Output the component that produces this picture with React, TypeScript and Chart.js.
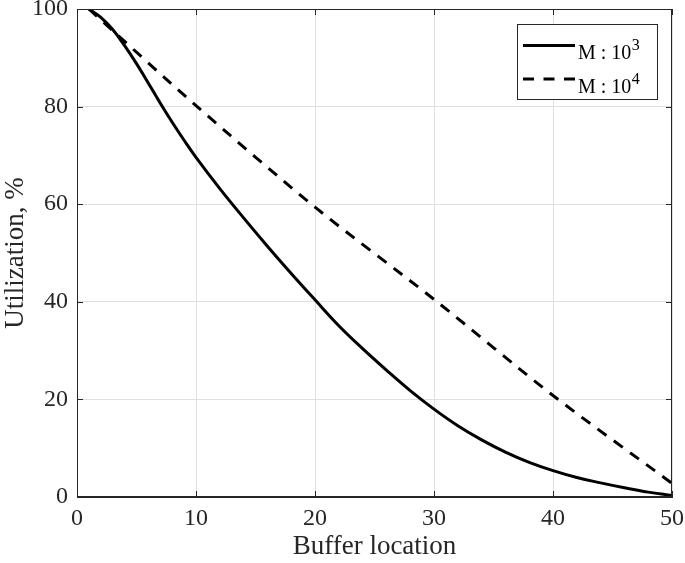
import React, { useEffect, useRef } from "react";
import { Chart, registerables } from "chart.js";

Chart.register(...registerables);

// ---- data ----
const solidX = [1, 2, 3, 4, 5, 6, 7, 8, 9, 10, 12, 14, 16, 18, 20, 22, 24, 26, 28, 30, 32, 34, 36, 38, 40, 42, 44, 46, 48, 50];
const solidY = [100, 98.3, 95.8, 92.5, 88.8, 84.8, 80.7, 76.8, 73.1, 69.6, 63.2, 57.2, 51.4, 45.8, 40.4, 35.1, 30.4, 26.0, 21.8, 18.0, 14.6, 11.7, 9.2, 7.1, 5.4, 4.0, 2.9, 1.9, 1.0, 0.3];

const dashedX = [1, 10, 20, 30, 40, 50];
const dashedY = [100, 80.2, 59.4, 40.5, 20.8, 2.8];

const xTicks = [0, 10, 20, 30, 40, 50];
const yTicks = [0, 20, 40, 60, 80, 100];

const legendBase = ["M : 10", "M : 10"];
const legendExp = ["3", "4"];

const xTitle = "Buffer location";
const yTitle = "Utilization, %";

const AXIS = "#262626";
const GRID = "#dfdfdf";
const FONT = "'Liberation Serif', 'Times New Roman', serif";

const framePlugin = {
  id: "frame",
  afterDatasetsDraw(chart: any) {
    const { ctx, chartArea: a, scales } = chart;
    ctx.save();
    ctx.strokeStyle = AXIS;
    ctx.lineWidth = 1;
    const tl = 6;
    ctx.beginPath();
    xTicks.forEach((v) => {
      const px = Math.round(scales.x.getPixelForValue(v)) + 0.5;
      ctx.moveTo(px, a.bottom);
      ctx.lineTo(px, a.bottom - tl);
      ctx.moveTo(px, a.top);
      ctx.lineTo(px, a.top + tl);
    });
    yTicks.forEach((v) => {
      const py = Math.round(scales.y.getPixelForValue(v)) + 0.5;
      ctx.moveTo(a.left, py);
      ctx.lineTo(a.left + tl, py);
      ctx.moveTo(a.right, py);
      ctx.lineTo(a.right - tl, py);
    });
    ctx.stroke();
    ctx.strokeRect(Math.round(a.left) + 0.5, Math.round(a.top) + 0.5, Math.round(a.width) - 1, Math.round(a.height) - 1);

    // legend box (top-right inside plot)
    const bx = a.right - 155;
    const by = a.top + 15;
    const bw = 140;
    const bh = 75;
    ctx.fillStyle = "#ffffff";
    ctx.fillRect(bx, by, bw, bh);
    ctx.strokeStyle = AXIS;
    ctx.lineWidth = 1;
    ctx.strokeRect(bx + 0.5, by + 0.5, bw, bh);

    const rows = [
      { y: by + 21.5, dash: [] as number[] },
      { y: by + 55, dash: [11, 9.5] },
    ];
    rows.forEach((r, i) => {
      ctx.save();
      ctx.strokeStyle = "#000";
      ctx.lineWidth = 3;
      ctx.setLineDash(r.dash);
      ctx.beginPath();
      ctx.moveTo(bx + 6, r.y);
      ctx.lineTo(bx + 58, r.y);
      ctx.stroke();
      ctx.restore();
      ctx.fillStyle = "#000";
      ctx.textBaseline = "alphabetic";
      ctx.textAlign = "left";
      ctx.font = `20px ${FONT}`;
      const tx = bx + 61;
      const base = r.y + 13.5;
      ctx.fillText(legendBase[i], tx, base);
      const w = ctx.measureText(legendBase[i]).width;
      ctx.font = `16px ${FONT}`;
      ctx.fillText(legendExp[i], tx + w + 0.5, base - 9);
    });
    ctx.restore();
  },
};

export default function App() {
  const ref = useRef<HTMLCanvasElement>(null);
  useEffect(() => {
    if (!ref.current) return;
    const chart = new Chart(ref.current, {
      type: "line",
      data: {
        datasets: [
          {
            label: legendBase[0] + legendExp[0],
            data: solidX.map((x, i) => ({ x, y: solidY[i] })),
            borderColor: "#000",
            borderWidth: 3,
            pointRadius: 0,
            fill: false,
            tension: 0.4,
          },
          {
            label: legendBase[1] + legendExp[1],
            data: dashedX.map((x, i) => ({ x, y: dashedY[i] })),
            borderColor: "#000",
            borderWidth: 3,
            borderDash: [11, 9],
            pointRadius: 0,
            fill: false,
            tension: 0.3,
          },
        ],
      },
      options: {
        animation: false,
        responsive: false,
        maintainAspectRatio: false,
        layout: { padding: { top: 9, right: 13, left: 0, bottom: 0 } },
        plugins: { legend: { display: false }, tooltip: { enabled: false } },
        scales: {
          x: {
            type: "linear",
            min: 0,
            max: 50,
            afterBuildTicks: (s: any) => {
              s.ticks = xTicks.map((v) => ({ value: v }));
            },
            afterFit: (s: any) => {
              s.height = 66;
              s.paddingLeft = 0;
              s.paddingRight = 0;
              s.paddingTop = 0;
              s.paddingBottom = 0;
            },
            ticks: {
              color: AXIS,
              font: { family: FONT, size: 24 },
              padding: 7,
              maxRotation: 0,
              autoSkip: false,
            },
            grid: { color: GRID, drawTicks: false, lineWidth: 1 },
            border: { display: true, color: AXIS },
            title: {
              display: true,
              text: xTitle,
              color: AXIS,
              font: { family: FONT, size: 27 },
              padding: { top: 0, bottom: 0 },
            },
          },
          y: {
            type: "linear",
            min: 0,
            max: 100,
            afterBuildTicks: (s: any) => {
              s.ticks = yTicks.map((v) => ({ value: v }));
            },
            afterFit: (s: any) => {
              s.width = 77;
              s.paddingLeft = 0;
              s.paddingRight = 0;
              s.paddingTop = 0;
              s.paddingBottom = 0;
            },
            ticks: {
              color: AXIS,
              font: { family: FONT, size: 24 },
              padding: 9,
              autoSkip: false,
            },
            grid: { color: GRID, drawTicks: false, lineWidth: 1 },
            border: { display: true, color: AXIS },
            title: {
              display: true,
              text: yTitle,
              color: AXIS,
              font: { family: FONT, size: 27 },
              padding: { top: 0, bottom: 0 },
            },
          },
        },
      },
      plugins: [framePlugin],
    });
    return () => chart.destroy();
  }, []);
  return (
    <div style={{ position: "fixed", left: 0, top: 0, width: 685, height: 563, background: "#fff" }}>
      <canvas ref={ref} width={685} height={563} style={{ display: "block" }} />
    </div>
  );
}
